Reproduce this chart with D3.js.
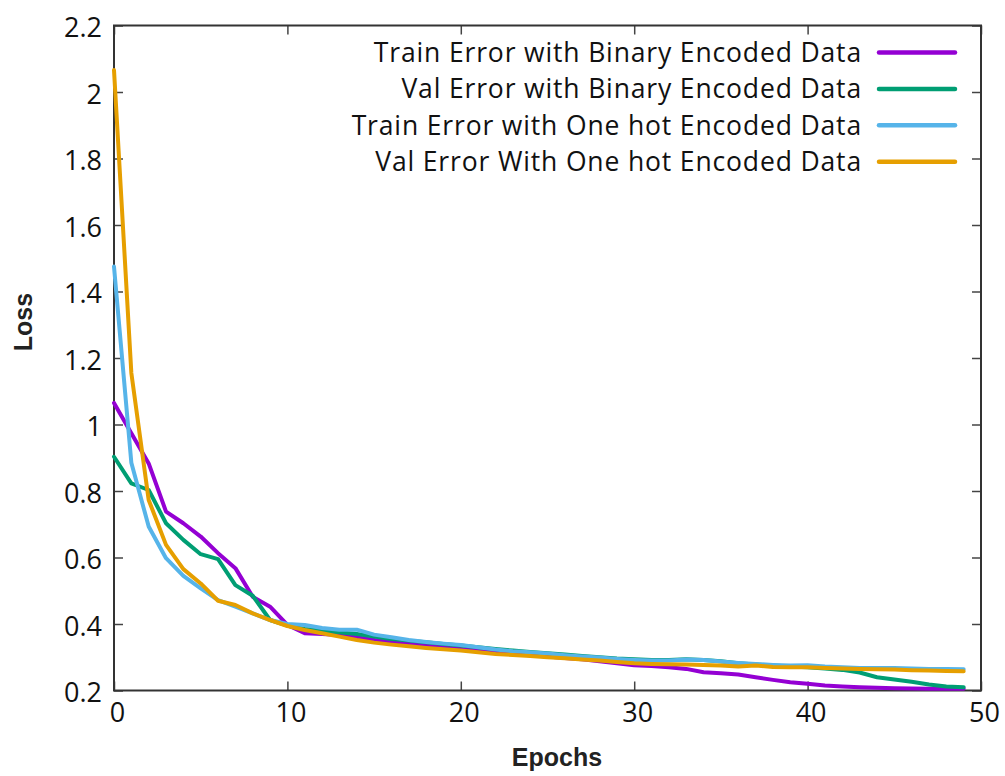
<!DOCTYPE html>
<html>
<head>
<meta charset="utf-8">
<script src="https://cdn.jsdelivr.net/npm/d3@7"></script>
<style>
  body { margin: 0; background: #ffffff; }
  svg { display: block; }
  .tick-label { font-family: "Open Sans", sans-serif; font-size: 27px; fill: #111; }
  .legend-label { font-family: "Open Sans", sans-serif; font-size: 26.5px; letter-spacing: 0.85px; fill: #111; }
  .axis-title { font-family: "Liberation Sans", Arial, sans-serif; font-size: 25px; font-weight: bold; fill: #222; }
</style>
</head>
<body>
<svg id="chart" width="1005" height="776"></svg>
<script>
// epochs 0..49
var epochs = d3.range(0, 50);

var seriesNames = [
  "Train Error with Binary Encoded Data",
  "Val Error with Binary Encoded Data",
  "Train Error with One hot Encoded Data",
  "Val Error With One hot Encoded Data"
];

var seriesColors = ["#9400d3", "#009e73", "#56b4e9", "#e69f00"];

var trainBinary = [
  1.065, 0.974, 0.883, 0.738, 0.703, 0.663, 0.613, 0.568, 0.482, 0.452,
  0.397, 0.372, 0.370, 0.367, 0.360, 0.352, 0.345, 0.340, 0.335, 0.330,
  0.325, 0.320, 0.315, 0.310, 0.306, 0.302, 0.298, 0.294, 0.288, 0.282,
  0.276, 0.274, 0.270, 0.265, 0.255, 0.252, 0.248, 0.240, 0.232, 0.225,
  0.220, 0.215, 0.212, 0.210, 0.208, 0.207, 0.206, 0.205, 0.205, 0.205
];

var valBinary = [
  0.903, 0.823, 0.803, 0.703, 0.653, 0.610, 0.595, 0.517, 0.485, 0.412,
  0.395, 0.385, 0.380, 0.375, 0.370, 0.362, 0.355, 0.350, 0.345, 0.340,
  0.335, 0.330, 0.325, 0.320, 0.316, 0.312, 0.308, 0.304, 0.300, 0.296,
  0.294, 0.292, 0.292, 0.294, 0.292, 0.288, 0.282, 0.278, 0.275, 0.272,
  0.270, 0.266, 0.262, 0.254, 0.240, 0.233, 0.226, 0.218, 0.212, 0.210
];

var trainOneHot = [
  1.475, 0.885, 0.693, 0.598, 0.545, 0.507, 0.472, 0.452, 0.432, 0.412,
  0.400, 0.397, 0.388, 0.383, 0.383, 0.368, 0.360, 0.352, 0.346, 0.341,
  0.337, 0.330, 0.323, 0.318, 0.315, 0.311, 0.306, 0.302, 0.299, 0.295,
  0.292, 0.290, 0.290, 0.293, 0.292, 0.287, 0.283, 0.280, 0.277, 0.275,
  0.276, 0.272, 0.270, 0.268, 0.268, 0.268, 0.266, 0.265, 0.265, 0.264
];

var valOneHot = [
  2.066, 1.155, 0.773, 0.638, 0.565, 0.522, 0.470, 0.457, 0.432, 0.412,
  0.394, 0.382, 0.372, 0.362, 0.352, 0.344, 0.338, 0.333, 0.328, 0.324,
  0.320, 0.315, 0.310, 0.307, 0.304, 0.300, 0.297, 0.293, 0.290, 0.286,
  0.282, 0.280, 0.279, 0.278, 0.277, 0.275, 0.272, 0.275, 0.271, 0.270,
  0.270, 0.268, 0.266, 0.265, 0.264, 0.263, 0.261, 0.260, 0.259, 0.258
];

var xTicks = [0, 10, 20, 30, 40, 50];
var yTicks = [0.2, 0.4, 0.6, 0.8, 1, 1.2, 1.4, 1.6, 1.8, 2, 2.2];

var svg = d3.select("#chart");

var params = {
  "margin": { "top": 25.5, "right": 24, "bottom": 85.5, "left": 114 },
  "width": 1005,
  "height": 776
};
params.plot = {
  "width": params.width - params.margin.left - params.margin.right,
  "height": params.height - params.margin.top - params.margin.bottom
};

var translate = function(x, y) {
  return "translate(" + x + "," + y + ")";
};

var scale = {
  "x": d3.scaleLinear().domain([0, 50]).range([0, params.plot.width]),
  "y": d3.scaleLinear().domain([0.2, 2.2]).range([params.plot.height, 0])
};

var plot = svg.append("g")
  .attr("transform", translate(params.margin.left, params.margin.top));

// inward ticks on all four sides, gnuplot style
var tickLen = 9;
var axis = {
  "bottom": d3.axisBottom(scale.x).tickValues(xTicks).tickSizeInner(-tickLen).tickSizeOuter(0).tickFormat(d3.format("d")),
  "top": d3.axisTop(scale.x).tickValues(xTicks).tickSizeInner(-tickLen).tickSizeOuter(0).tickFormat(""),
  "left": d3.axisLeft(scale.y).tickValues(yTicks).tickSizeInner(-tickLen).tickSizeOuter(0).tickFormat(d3.format("~g")),
  "right": d3.axisRight(scale.y).tickValues(yTicks).tickSizeInner(-tickLen).tickSizeOuter(0).tickFormat("")
};

var gb = plot.append("g").attr("transform", translate(0, params.plot.height)).call(axis.bottom);
var gt = plot.append("g").call(axis.top);
var gl = plot.append("g").call(axis.left);
var gr = plot.append("g").attr("transform", translate(params.plot.width, 0)).call(axis.right);

[gb, gt, gl, gr].forEach(function(g) {
  g.select(".domain").remove();
  g.selectAll(".tick line").attr("stroke", "#444").attr("stroke-width", 1.5);
  g.selectAll(".tick text").attr("class", "tick-label").attr("fill", null);
  g.attr("font-size", null).attr("font-family", null);
});

gb.selectAll(".tick text").attr("y", 12).attr("dy", "0.71em").attr("dx", 3);
gl.selectAll(".tick text").attr("x", -12).attr("dy", "0.42em");

// frame
plot.append("rect")
  .attr("x", 0)
  .attr("y", 0)
  .attr("width", params.plot.width)
  .attr("height", params.plot.height)
  .attr("fill", "none")
  .attr("stroke", "#333")
  .attr("stroke-width", 2);

// lines
var allSeries = [trainBinary, valBinary, trainOneHot, valOneHot];

var line = d3.line()
  .x(function(d, i) { return scale.x(epochs[i]); })
  .y(function(d) { return scale.y(d); });

plot.selectAll("path.series")
  .data(allSeries)
  .enter()
  .append("path")
  .attr("class", "series")
  .attr("d", line)
  .attr("fill", "none")
  .attr("stroke", function(d, i) { return seriesColors[i]; })
  .attr("stroke-width", 4)
  .attr("stroke-linejoin", "round")
  .attr("stroke-linecap", "round");

// legend
var legend = svg.append("g").attr("transform", translate(0, 52.5));
var rowGap = 36.4;

var rows = legend.selectAll("g.legend-row")
  .data(seriesNames)
  .enter()
  .append("g")
  .attr("class", "legend-row")
  .attr("transform", function(d, i) { return translate(0, i * rowGap); });

rows.append("text")
  .attr("class", "legend-label")
  .attr("x", 862)
  .attr("y", 0)
  .attr("dy", "0.36em")
  .attr("text-anchor", "end")
  .text(function(d) { return d; });

rows.append("line")
  .attr("x1", 879)
  .attr("x2", 955)
  .attr("y1", 0)
  .attr("y2", 0)
  .attr("stroke", function(d, i) { return seriesColors[i]; })
  .attr("stroke-width", 4.5)
  .attr("stroke-linecap", "round");

// axis titles
svg.append("text")
  .attr("class", "axis-title")
  .attr("text-anchor", "middle")
  .attr("transform", translate(557, 766))
  .text("Epochs");

svg.append("text")
  .attr("class", "axis-title")
  .attr("text-anchor", "middle")
  .attr("transform", translate(32, 322) + " rotate(-90)")
  .text("Loss");
</script>
</body>
</html>
